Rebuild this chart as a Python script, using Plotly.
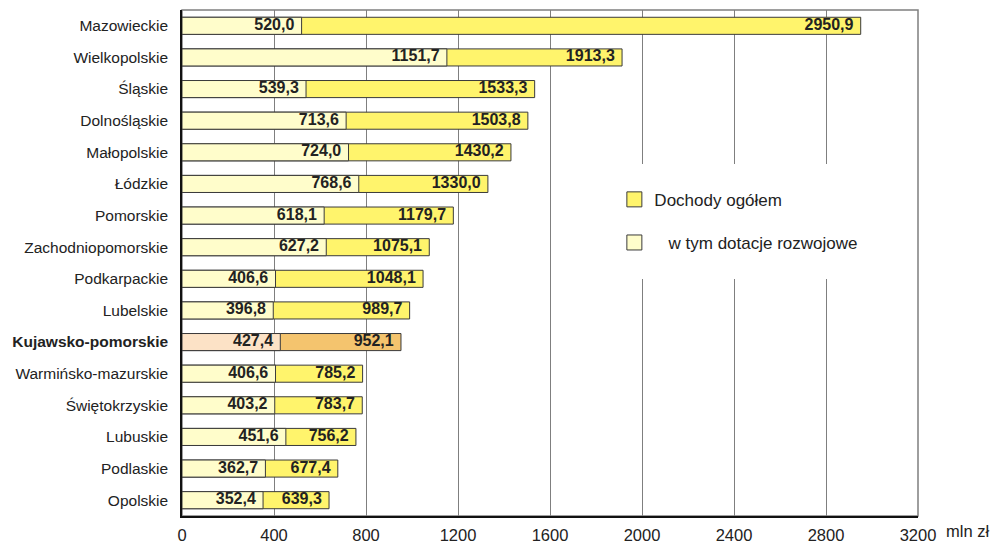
import plotly.graph_objects as go

regions = ["Mazowieckie", "Wielkopolskie", "Śląskie", "Dolnośląskie", "Małopolskie",
           "Łódzkie", "Pomorskie", "Zachodniopomorskie", "Podkarpackie", "Lubelskie",
           "Kujawsko-pomorskie", "Warmińsko-mazurskie", "Świętokrzyskie", "Lubuskie",
           "Podlaskie", "Opolskie"]
dochody_ogolem = [2950.9, 1913.3, 1533.3, 1503.8, 1430.2, 1330.0, 1179.7, 1075.1, 1048.1,
                  989.7, 952.1, 785.2, 783.7, 756.2, 677.4, 639.3]
dotacje_rozwojowe = [520.0, 1151.7, 539.3, 713.6, 724.0, 768.6, 618.1, 627.2, 406.6,
                     396.8, 427.4, 406.6, 403.2, 451.6, 362.7, 352.4]
x_ticks = [0, 400, 800, 1200, 1600, 2000, 2400, 2800, 3200]
highlight = "Kujawsko-pomorskie"

FONT = "Arial, 'Liberation Sans', sans-serif"
YELLOW = "#FFF46C"
LIGHT = "#FFFDCB"
EDGE = "#3a3a3a"

def fmt(v):
    return f"{v:.1f}".replace(".", ",")

col_total = ["#F4C46E" if r == highlight else YELLOW for r in regions]
col_grant = ["#FCE2C6" if r == highlight else LIGHT for r in regions]
tick_text = [f"<b>{r}</b>" if r == highlight else r for r in regions]

fig = go.Figure()
fig.add_trace(go.Bar(
    y=regions, x=dochody_ogolem, orientation="h", showlegend=False,
    marker=dict(color=col_total, line=dict(color=EDGE, width=1)),
    width=0.54, hoverinfo="x+y",
))
fig.add_trace(go.Bar(
    y=regions, x=dotacje_rozwojowe, orientation="h", showlegend=False,
    marker=dict(color=col_grant, line=dict(color=EDGE, width=1)),
    width=0.54, hoverinfo="x+y",
))
# value labels at bar ends (invisible marker pushes text a little inside the bar)
for vals in (dochody_ogolem, dotacje_rozwojowe):
    fig.add_trace(go.Scatter(
        y=regions, x=vals, mode="markers+text", text=[fmt(v) for v in vals],
        textposition="middle left", showlegend=False, hoverinfo="skip",
        marker=dict(size=10, color="rgba(0,0,0,0)"),
        textfont=dict(family=FONT, size=16, color="#222222", weight="bold"),
    ))
# legend entries
fig.add_trace(go.Scatter(
    x=[None], y=[None], mode="markers", name="Dochody ogółem", legendgroup="a",
    marker=dict(symbol="square", size=15, color=YELLOW, line=dict(color=EDGE, width=1)),
))
fig.add_trace(go.Scatter(
    x=[None], y=[None], mode="markers", name="\u00a0\u00a0\u00a0w tym dotacje rozwojowe",
    legendgroup="b",
    marker=dict(symbol="square", size=15, color=LIGHT, line=dict(color=EDGE, width=1)),
))

fig.update_layout(
    width=991, height=536,
    margin=dict(l=174, r=81, t=2, b=28, autoexpand=False),
    barmode="overlay",
    paper_bgcolor="white", plot_bgcolor="white",
    font=dict(family=FONT, size=15, color="#222222"),
    showlegend=True,
    legend=dict(x=0.563, y=0.696, xanchor="left", yanchor="top",
                bgcolor="white", bordercolor="white", borderwidth=18,
                font=dict(size=17, color="#222222"), itemsizing="trace",
                traceorder="grouped", tracegroupgap=18, itemclick=False),
    xaxis=dict(range=[0, 3200], tickvals=x_ticks, ticktext=[str(t) for t in x_ticks],
               showgrid=True, gridcolor="#7f7f7f", gridwidth=1,
               showline=True, linecolor="#111111", linewidth=1.5,
               zeroline=False, ticks="", ticklabelstandoff=3, automargin=False,
               tickfont=dict(size=16.5, color="#222222")),
    yaxis=dict(categoryorder="array", categoryarray=regions,
               range=[len(regions) - 0.5, -0.5], autorange=False,
               tickvals=regions, ticktext=tick_text, automargin=False,
               showgrid=False, showline=True, linecolor="#111111", linewidth=1.5,
               ticks="", ticklabelstandoff=9, tickfont=dict(size=15.5, color="#222222")),
    shapes=[dict(type="rect", xref="x domain", yref="y domain", x0=0, x1=1, y0=0, y1=1,
                 line=dict(color="#7f7f7f", width=1.5), layer="below")],
    annotations=[dict(text="mln zł", xref="paper", yref="paper", x=1.036, y=0,
                      xanchor="left", yanchor="top", yshift=-4, showarrow=False,
                      font=dict(size=16.5, color="#222222"))],
)

fig.write_html("out.html")
